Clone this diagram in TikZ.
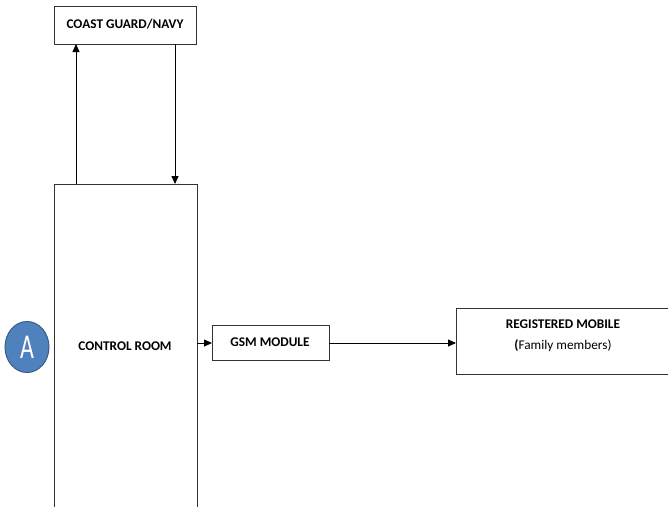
\documentclass[tikz,border=0pt]{standalone}
\usepackage{fontspec}
\setmainfont{Carlito}
\usetikzlibrary{arrows.meta,shapes.geometric}
\definecolor{ablue}{RGB}{79,129,189}
\definecolor{ablueedge}{RGB}{56,93,138}
\begin{document}
\begin{tikzpicture}[x=1pt,y=-1pt,
  box/.style={draw=black!80,line width=1pt,fill=white},
  lbl/.style={font=\fontsize{13.3}{21}\selectfont\bfseries,align=center,inner sep=0pt},
  arr/.style={-{Triangle[length=8pt,width=7pt]},line width=0.8pt}]
\useasboundingbox (0,0) rectangle (668,506);
\begin{scope}
\clip (0,0) rectangle (668,506);
\draw[box] (54,6) rectangle (196,44);
\node[lbl] (cg) at (125,24) {COAST GUARD/NAVY};
\draw[box] (54,184) rectangle (197,520);
\node[lbl] (cr) at (125,346) {CONTROL ROOM};
\draw[box] (212,325) rectangle (329,360);
\node[lbl] (gsm) at (270,342) {GSM MODULE};
\draw[box] (456,308) rectangle (680,374);
\node[lbl] (rm) at (563,336) {REGISTERED MOBILE\\(\mdseries Family members)};
\coordinate (a1) at (76,184);
\coordinate (a2) at (76,44);
\coordinate (b1) at (175,44);
\coordinate (b2) at (175,184);
\coordinate (c1) at (197,343);
\coordinate (c2) at (212,343);
\coordinate (d1) at (329,343);
\coordinate (d2) at (456,343);
\draw[arr] (a1) -- (a2);
\draw[arr] (b1) -- (b2);
\draw[arr] (c1) -- (c2);
\draw[arr] (d1) -- (d2);
\node[ellipse,draw=ablueedge,line width=1pt,fill=ablue,minimum width=44pt,minimum height=51pt,inner sep=0pt,text=white] (A) at (27,347) {\scalebox{1}[1.45]{\fontsize{24}{24}\selectfont A}};
\end{scope}
\end{tikzpicture}
\end{document}
